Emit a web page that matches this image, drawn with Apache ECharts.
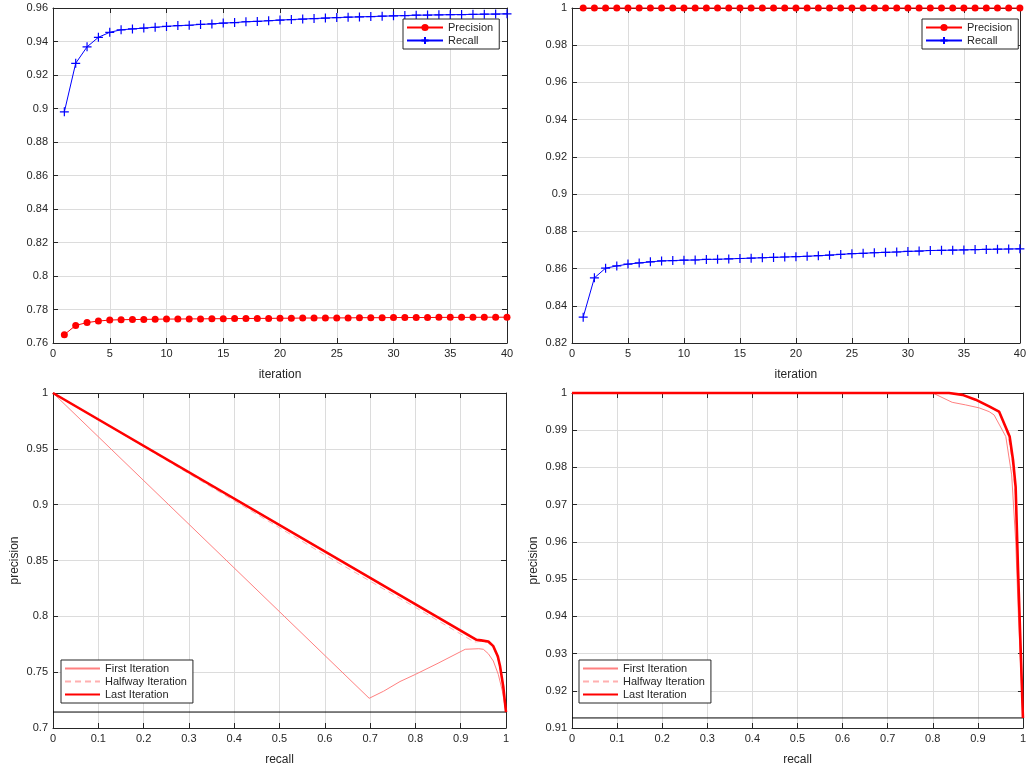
<!DOCTYPE html>
<html><head><meta charset="utf-8">
<script src="https://cdn.jsdelivr.net/npm/echarts@6/dist/echarts.min.js"></script>
<style>html,body{margin:0;padding:0;background:#fff}#c{width:1029px;height:769px}</style>
</head><body><div id="c"></div>
<script>
// ---------- DATA ----------
const iterations = [1,2,3,4,5,6,7,8,9,10,11,12,13,14,15,16,17,18,19,20,21,22,23,24,25,26,27,28,29,30,31,32,33,34,35,36,37,38,39,40];

// top-left panel
const tlPrecision = [0.765,0.7705,0.7722,0.7731,0.7737,0.7739,0.774,0.7741,0.7742,0.7743,0.7743,0.7744,0.7744,0.7745,0.7745,0.7746,0.7746,0.7747,0.7747,0.7748,0.7748,0.7749,0.7749,0.775,0.775,0.775,0.7751,0.7751,0.7751,0.7752,0.7752,0.7752,0.7752,0.7753,0.7753,0.7753,0.7753,0.7754,0.7754,0.7754];
const tlRecall = [0.898,0.927,0.9368,0.9425,0.9455,0.947,0.9475,0.948,0.9485,0.949,0.9495,0.9497,0.9502,0.9505,0.951,0.9513,0.9518,0.952,0.9524,0.9528,0.9531,0.9534,0.9537,0.954,0.9543,0.9545,0.9547,0.9549,0.9551,0.9553,0.9555,0.9557,0.9558,0.9559,0.956,0.9561,0.9562,0.9563,0.9564,0.9565];

// top-right panel
const trPrecision = [1,1,1,1,1,1,1,1,1,1,1,1,1,1,1,1,1,1,1,1,1,1,1,1,1,1,1,1,1,1,1,1,1,1,1,1,1,1,1,1];
const trRecall = [0.8339,0.855,0.8602,0.8614,0.8624,0.863,0.8636,0.8641,0.8643,0.8645,0.8646,0.8649,0.865,0.8652,0.8654,0.8656,0.8658,0.866,0.8662,0.8664,0.8666,0.8669,0.8672,0.8676,0.868,0.8682,0.8685,0.8687,0.8689,0.8692,0.8694,0.8697,0.8698,0.8699,0.87,0.8702,0.8703,0.8704,0.8705,0.8706];

// bottom-left panel (PR curves)
const blFirstRecall = [0,0.698,0.73,0.766,0.8,0.85,0.91,0.94,0.95,0.961,0.972,0.983,0.992,1];
const blFirstPrec   = [1,0.7266,0.733,0.7416,0.748,0.758,0.7705,0.771,0.7705,0.7665,0.76,0.748,0.733,0.7143];
const blHalfRecall  = [0,0.2,0.4,0.6,0.8,0.93,0.945,0.96,0.972,0.982,0.99,1];
const blHalfPrec    = [1,0.952,0.9035,0.855,0.808,0.777,0.7775,0.7765,0.772,0.762,0.748,0.7143];
const blLastRecall  = [0,0.935,0.945,0.961,0.972,0.982,0.987,0.994,1];
const blLastPrec    = [1,0.779,0.7785,0.7775,0.7733,0.764,0.755,0.737,0.7143];
const blBaseline = 0.7143;

// bottom-right panel (PR curves)
const brFirstRecall = [0,0.8,0.843,0.873,0.903,0.925,0.936,0.962,0.975,0.984,0.99,1];
const brFirstPrec   = [1,1,0.9975,0.9968,0.996,0.995,0.9941,0.9883,0.978,0.96,0.94,0.9127];
const brHalfRecall  = [0,0.84,0.87,0.9,0.93,0.95,0.968,0.977,0.983,0.989,1];
const brHalfPrec    = [1,1,0.9993,0.998,0.9962,0.9945,0.988,0.981,0.973,0.952,0.9127];
const brLastRecall  = [0,0.836,0.866,0.895,0.925,0.947,0.9705,0.978,0.9838,0.989,1];
const brLastPrec    = [1,1,0.9995,0.9982,0.9964,0.995,0.9883,0.982,0.9748,0.953,0.9127];
const brBaseline = 0.9127;

// ---------- CHART ----------
const FONT = 'Liberation Sans, Arial, sans-serif';
const AX = '#262626';
const GRIDC = '#dcdcdc';
const fmt = v => String(+v.toFixed(3));
const zip = (a, b) => a.map((x, i) => [x, b[i]]);

const grids = [
  {left:53, top:8, width:454, height:335},
  {left:572, top:8, width:453, height:335},
  {left:53, top:393, width:453, height:335},
  {left:572, top:393, width:452, height:335}
];
const xSpec = [
  {min:0,max:40,interval:5,name:'iteration'},
  {min:0,max:40,interval:5,name:'iteration'},
  {min:0,max:1,interval:0.1,name:'recall'},
  {min:0,max:1,interval:0.1,name:'recall'}
];
const ySpec = [
  {min:0.76,max:0.96,interval:0.02,name:''},
  {min:0.82,max:1,interval:0.02,name:''},
  {min:0.7,max:1,interval:0.05,name:'precision'},
  {min:0.91,max:1,interval:0.01,name:'precision'}
];

const xAxis = [], yAxis = [];
grids.forEach((g, i) => {
  const xs = xSpec[i], ys = ySpec[i];
  xAxis.push({gridIndex:i, type:'value', position:'bottom', min:xs.min, max:xs.max, interval:xs.interval,
    name:xs.name, nameLocation:'middle', nameGap:26,
    nameTextStyle:{color:AX, fontSize:12, fontFamily:FONT},
    axisLine:{show:true, onZero:false, lineStyle:{color:AX}},
    axisTick:{show:true, inside:true, length:5, lineStyle:{color:AX}},
    axisLabel:{color:AX, fontSize:11, fontFamily:FONT, margin:5, formatter:fmt, showMaxLabel:true, showMinLabel:true},
    splitLine:{show:true, lineStyle:{color:GRIDC}}});
  xAxis.push({gridIndex:i, type:'value', position:'top', min:xs.min, max:xs.max, interval:xs.interval,
    axisLine:{show:true, onZero:false, lineStyle:{color:AX}},
    axisTick:{show:true, inside:true, length:5, lineStyle:{color:AX}},
    axisLabel:{show:false}, splitLine:{show:false}});
  yAxis.push({gridIndex:i, type:'value', position:'left', min:ys.min, max:ys.max, interval:ys.interval,
    name:ys.name, nameLocation:'middle', nameGap:32,
    nameTextStyle:{color:AX, fontSize:12, fontFamily:FONT},
    axisLine:{show:true, onZero:false, lineStyle:{color:AX}},
    axisTick:{show:true, inside:true, length:5, lineStyle:{color:AX}},
    axisLabel:{color:AX, fontSize:11, fontFamily:FONT, margin:5, formatter:fmt, showMaxLabel:true, showMinLabel:true},
    splitLine:{show:true, lineStyle:{color:GRIDC}}});
  yAxis.push({gridIndex:i, type:'value', position:'right', min:ys.min, max:ys.max, interval:ys.interval,
    axisLine:{show:true, onZero:false, lineStyle:{color:AX}},
    axisTick:{show:true, inside:true, length:5, lineStyle:{color:AX}},
    axisLabel:{show:false}, splitLine:{show:false}});
});

const PLUS = 'path://M5,0L5,10M0,5L10,5';
function precSeries(i, vals) {
  return {name:'Precision', type:'line', xAxisIndex:2*i, yAxisIndex:2*i, data:zip(iterations, vals),
    symbol:'circle', symbolSize:7, clip:false, z:3,
    lineStyle:{color:'#ff0000', width:1}, itemStyle:{color:'#ff0000'}};
}
function recSeries(i, vals) {
  return {name:'Recall', type:'line', xAxisIndex:2*i, yAxisIndex:2*i, data:zip(iterations, vals),
    symbol:PLUS, symbolSize:9, clip:false, z:3,
    lineStyle:{color:'#0000ff', width:1}, itemStyle:{color:'#0000ff', borderColor:'#0000ff', borderWidth:1.2}};
}
function prSeries(i, name, r, p, style) {
  return Object.assign({name:name, type:'line', xAxisIndex:2*i, yAxisIndex:2*i, data:zip(r, p),
    symbol:'none', showSymbol:false, clip:false}, style);
}
const firstStyle = {lineStyle:{color:'#ff8080', width:1}, itemStyle:{color:'#ff8080'}, z:3};
const halfStyle = {lineStyle:{color:'#ffb0b0', width:1, type:[6,4]}, itemStyle:{color:'#ffb0b0'}, z:4};
const lastStyle = {lineStyle:{color:'#ff0000', width:2.6}, itemStyle:{color:'#ff0000'}, z:5};
function baseSeries(i, v) {
  return {name:'baseline', type:'line', xAxisIndex:2*i, yAxisIndex:2*i, data:[[0, v],[1, v]],
    symbol:'none', lineStyle:{color:'#000000', width:1}, z:2, silent:true};
}

const series = [
  precSeries(0, tlPrecision), recSeries(0, tlRecall),
  precSeries(1, trPrecision), recSeries(1, trRecall),
  baseSeries(2, blBaseline),
  prSeries(2, 'First Iteration', blFirstRecall, blFirstPrec, firstStyle),
  prSeries(2, 'Halfway Iteration', blHalfRecall, blHalfPrec, halfStyle),
  prSeries(2, 'Last Iteration', blLastRecall, blLastPrec, lastStyle),
  baseSeries(3, brBaseline),
  prSeries(3, 'First Iteration', brFirstRecall, brFirstPrec, firstStyle),
  prSeries(3, 'Halfway Iteration', brHalfRecall, brHalfPrec, halfStyle),
  prSeries(3, 'Last Iteration', brLastRecall, brLastPrec, lastStyle)
];

function legend(left, top, names, w, hideSymbol) {
  const l = {left:left, top:top, orient:'vertical', data:names, itemWidth:w, itemHeight:9, itemGap:2,
    padding:[3,6,3,3], borderColor:AX, borderWidth:1, backgroundColor:'#ffffff',
    textStyle:{color:AX, fontSize:11, fontFamily:FONT}, selectedMode:false, inactiveColor:AX};
  if (hideSymbol) l.itemStyle = {opacity:0};
  return l;
}

const chart = echarts.init(document.getElementById('c'), null, {renderer:'canvas'});
chart.setOption({
  animation:false,
  backgroundColor:'#ffffff',
  grid:grids,
  xAxis:xAxis,
  yAxis:yAxis,
  legend:[
    legend(403, 19, ['Precision','Recall'], 36, false),
    legend(922, 19, ['Precision','Recall'], 36, false),
    legend(61, 660, ['First Iteration','Halfway Iteration','Last Iteration'], 35, true),
    legend(579, 660, ['First Iteration','Halfway Iteration','Last Iteration'], 35, true)
  ],
  series:series
});
</script>
</body></html>
